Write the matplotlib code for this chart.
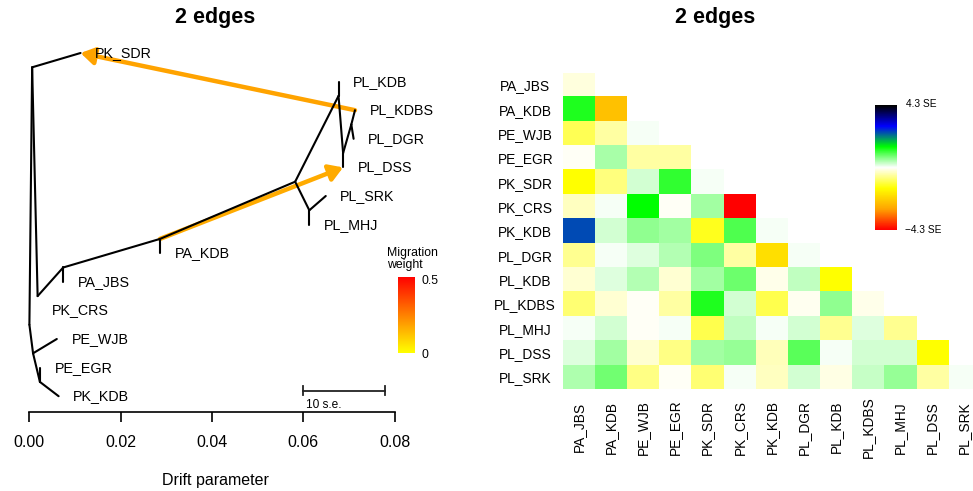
import matplotlib
matplotlib.use("Agg")
import matplotlib.pyplot as plt
import numpy as np
from matplotlib.colors import LinearSegmentedColormap

plt.rcParams["font.family"] = ["Liberation Sans", "DejaVu Sans"]

# ---------------- tree data (drift, tip row) ----------------
node_names = ["root", "A", "B", "C", "D", "E", "F", "G", "H", "I", "J", "K",
              "PK_SDR", "PL_KDB", "PL_KDBS", "PL_DGR", "PL_DSS", "PL_SRK",
              "PL_MHJ", "PA_KDB", "PA_JBS", "PK_CRS", "PE_WJB", "PE_EGR", "PK_KDB"]
node_drift = [0.0000, 0.0006, 0.0008, 0.0018, 0.0074, 0.0286, 0.0582, 0.0677,
              0.0613, 0.0687, 0.0705, 0.0023,
              0.0112, 0.0677, 0.0713, 0.0710, 0.0687, 0.0649,
              0.0613, 0.0286, 0.0074, 0.0018, 0.0060, 0.0023, 0.0064]
node_row = [9.5, 0.5, 10.5, 8.5, 7.5, 6.5, 4.5, 1.5, 5.5, 3.5, 2.5, 11.5,
            0, 1, 2, 3, 4, 5, 6, 7, 8, 9, 10, 11, 12]
tip_names = node_names[12:]

edge_parent = ["root", "root", "A", "A", "C", "D", "D", "E", "E", "F", "F",
               "G", "G", "I", "I", "J", "J", "H", "H", "B", "B", "K", "K"]
edge_child = ["A", "B", "PK_SDR", "C", "D", "PA_JBS", "E", "PA_KDB", "F", "G", "H",
              "PL_KDB", "I", "PL_DSS", "J", "PL_KDBS", "PL_DGR", "PL_SRK", "PL_MHJ",
              "PE_WJB", "K", "PE_EGR", "PK_KDB"]

# migration edges
mig_from = ["PL_KDBS", "E"]
mig_to = ["PK_SDR", "PL_DSS"]
mig_weight = [0.18, 0.165]

se_value = 0.00178
drift_ticks = [0.00, 0.02, 0.04, 0.06, 0.08]

# ---------------- residual data ----------------
pops = ["PA_JBS", "PA_KDB", "PE_WJB", "PE_EGR", "PK_SDR", "PK_CRS", "PK_KDB",
        "PL_DGR", "PL_KDB", "PL_KDBS", "PL_MHJ", "PL_DSS", "PL_SRK"]
resid_rows = [
    [-0.20],
    [1.25, -2.40],
    [-0.96, -0.53, 0.06],
    [-0.06, 0.50, -0.53, -0.53],
    [-1.43, -0.71, 0.26, 1.15, 0.06],
    [-0.35, 0.06, 1.43, -0.06, 0.53, -4.30],
    [2.43, 0.26, 0.62, 0.53, -1.25, 1.00, 0.06],
    [-0.62, 0.06, 0.17, 0.42, 0.71, -0.53, -1.92, 0.06],
    [-0.26, 0.17, 0.42, -0.26, 0.53, 0.82, -0.13, 0.36, -1.43],
    [-0.80, -0.26, -0.06, -0.53, 1.25, 0.26, -1.00, -0.08, 0.62, -0.13],
    [0.06, 0.26, -0.06, 0.06, -1.00, 0.35, 0.06, 0.26, -0.62, 0.17, -0.62],
    [0.17, 0.53, -0.26, -0.68, 0.53, 0.60, -0.40, 0.91, 0.06, 0.26, 0.26, -1.43],
    [0.44, 0.80, -0.68, -0.06, -0.80, 0.06, -0.35, 0.26, -0.15, 0.31, 0.60, -0.53, 0.06],
]
se_max = 4.3

W, H = 973, 491
fig = plt.figure(figsize=(W / 100, H / 100), dpi=100)


def px_rect(x0, y0, x1, y1):
    # pixel box (top-left origin) -> figure fraction rect
    return [x0 / W, 1 - y1 / H, (x1 - x0) / W, (y1 - y0) / H]


mig_cmap = LinearSegmentedColormap.from_list("mig", ["yellow", "red"])
res_cmap = LinearSegmentedColormap.from_list(
    "res", ["red", "orange", "yellow", "white", "#00ff00", "blue", "black"])

# ================= LEFT: tree =================
ax = fig.add_axes(px_rect(29.4, 40, 394.7, 412.3))
ax.set_xlim(0, 0.08)
ax.set_ylim(12.563, -0.4545)
pos = {n: (x, y) for n, x, y in zip(node_names, node_drift, node_row)}

for src, dst, w in zip(mig_from, mig_to, mig_weight):
    ax.annotate("", xy=pos[dst], xytext=pos[src],
                arrowprops=dict(arrowstyle="-|>,head_length=0.45,head_width=0.28",
                                color=mig_cmap(w / 0.5), lw=3.2, mutation_scale=18,
                                shrinkA=0, shrinkB=0),
                zorder=2, annotation_clip=False)

for p, c in zip(edge_parent, edge_child):
    ax.plot([pos[p][0], pos[c][0]], [pos[p][1], pos[c][1]], color="black",
            lw=1.5, solid_capstyle="round", zorder=3, clip_on=False)

for t in tip_names:
    ax.annotate(t, xy=pos[t], xytext=(10.5, 0), textcoords="offset points",
                ha="left", va="center", fontsize=10.3, annotation_clip=False)

# scale bar
bar_row = 11.81
ax.plot([0.06, 0.06 + 10 * se_value], [bar_row, bar_row], color="#222222", lw=1.3,
        clip_on=False)
for xb in [0.06, 0.06 + 10 * se_value]:
    ax.plot([xb, xb], [bar_row - 0.15, bar_row + 0.15], color="#222222", lw=1.3,
            clip_on=False)
ax.text(0.0606, 12.3, "10 s.e.", fontsize=8.6, ha="left", va="center")

for s in ["left", "top", "right"]:
    ax.spines[s].set_visible(False)
ax.spines["bottom"].set_bounds(0, 0.08)
ax.spines["bottom"].set_linewidth(1.2)
ax.set_yticks([])
ax.set_xticks(drift_ticks)
ax.set_xticklabels([f"{v:.2f}" for v in drift_ticks])
ax.tick_params(axis="x", length=7.5, width=1.2, pad=9, labelsize=11.5)
ax.patch.set_alpha(0)

fig.text(215 / W, 1 - 481 / H, "Drift parameter", ha="center", va="center",
         fontsize=11.5)
fig.text(215 / W, 1 - 18 / H, "2 edges", ha="center", va="center",
         fontsize=15.5, fontweight="bold")

# migration weight legend
fig.text(387 / W, 1 - 259 / H, "Migration\nweight", ha="left", va="center",
         fontsize=8.8, linespacing=1.05)
cax = fig.add_axes(px_rect(398, 277, 415, 353))
cax.imshow(np.linspace(0, 1, 100).reshape(-1, 1), cmap=mig_cmap, aspect="auto",
           origin="lower")
cax.axis("off")
fig.text(422 / W, 1 - 281 / H, "0.5", ha="left", va="center", fontsize=8.8)
fig.text(422 / W, 1 - 355 / H, "0", ha="left", va="center", fontsize=8.8)

# ================= RIGHT: residuals =================
n = len(pops)
resid = np.full((n, n), np.nan)
for i, r in enumerate(resid_rows):
    resid[i, :len(r)] = r
resid = np.ma.masked_invalid(resid)

hx = fig.add_axes(px_rect(562.7, 72.7, 562.7 + 13 * 32.13, 389))
hx.imshow(resid, cmap=res_cmap, vmin=-se_max, vmax=se_max, aspect="auto",
          interpolation="nearest")
for s in hx.spines.values():
    s.set_visible(False)
hx.set_yticks(range(n))
hx.set_yticklabels(pops, ha="center", fontsize=9.9)
hx.set_xticks(range(n))
hx.set_xticklabels(pops, rotation=90, ha="center", va="center", fontsize=9.9)
hx.tick_params(axis="y", length=0, pad=27)
hx.tick_params(axis="x", length=0, pad=27.5)

fig.text(715 / W, 1 - 18 / H, "2 edges", ha="center", va="center",
         fontsize=15.5, fontweight="bold")

rax = fig.add_axes(px_rect(875, 105, 897, 230))
rax.imshow(np.linspace(0, 1, 200).reshape(-1, 1), cmap=res_cmap, aspect="auto",
           origin="lower")
rax.axis("off")
fig.text(906 / W, 1 - 104 / H, f"{se_max} SE", ha="left", va="center", fontsize=7.3)
fig.text(905 / W, 1 - 230 / H, f"\u2212{se_max} SE", ha="left", va="center",
         fontsize=7.3)

fig.savefig("out.png", dpi=100)
